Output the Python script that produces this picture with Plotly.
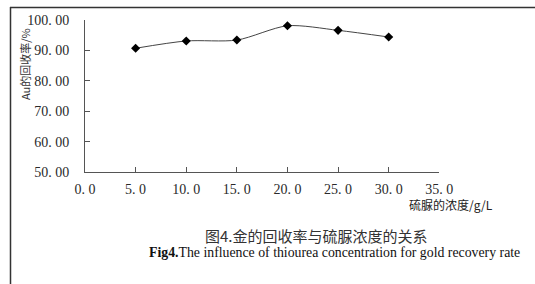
import plotly.graph_objects as go

# Data
concentration = [5.0, 10.0, 15.0, 20.0, 25.0, 30.0]
recovery = [90.7, 93.1, 93.4, 98.1, 96.6, 94.4]

x_ticks = [0, 5, 10, 15, 20, 25, 30, 35]
x_ticklabels = ["0. 0", "5. 0", "10. 0", "15. 0", "20. 0", "25. 0", "30. 0", "35. 0"]
y_ticks = [50, 60, 70, 80, 90, 100]
y_ticklabels = ["50. 00", "60. 00", "70. 00", "80. 00", "90. 00", "100. 00"]

y_title = "Au的回收率/%"
x_title = "硫脲的浓度/g/L"
caption_cn = "图4.金的回收率与硫脲浓度的关系"
caption_en = "<b>Fig4.</b>The influence of thiourea concentration for gold recovery rate"

W, H = 535, 284
L, R, T, B = 85, 439.3, 20, 172  # plot area in pixels


def px(x):
    return x / W


def py(y):
    return 1 - y / H


fig = go.Figure()
fig.add_trace(go.Scatter(
    x=concentration, y=recovery, mode="lines+markers",
    line=dict(color="#444444", width=1, shape="spline", smoothing=0.8),
    marker=dict(symbol="diamond", size=7, color="black"),
    showlegend=False,
))

tick_font = dict(family="Liberation Serif, serif", size=14, color="#2a2a2a")
fig.update_xaxes(range=[0, 35], tickvals=x_ticks, ticktext=x_ticklabels,
                 domain=[px(L), px(R)],
                 showgrid=False, zeroline=False, showline=True, automargin=False,
                 linecolor="#555555", linewidth=1, ticks="inside", ticklen=5,
                 tickcolor="#555555", tickfont=tick_font, ticklabelstandoff=4)
fig.update_yaxes(range=[50, 100], tickvals=y_ticks, ticktext=y_ticklabels,
                 domain=[py(B), py(T)],
                 showgrid=False, zeroline=False, showline=True, automargin=False,
                 linecolor="#555555", linewidth=1, ticks="inside", ticklen=5,
                 tickcolor="#555555", tickfont=tick_font, ticklabelstandoff=12)

cjk = "Noto Sans CJK SC"
common = dict(showarrow=False, xref="paper", yref="paper", xanchor="center", yanchor="middle")
annotations = [
    dict(x=px(25), y=py(64), text=y_title, textangle=-90,
         font=dict(family=cjk, size=11, color="#333333"), **common),
    dict(x=px(451), y=py(204), text=x_title,
         font=dict(family=cjk, size=12, color="#222222"), **common),
    dict(x=px(316), y=py(235), text=caption_cn,
         font=dict(family=cjk, size=15, color="#333333"), **common),
    dict(x=px(334), y=py(252), text=caption_en,
         font=dict(family="Liberation Serif, serif", size=13.8, color="#111111"), **common),
]

shapes = [
    dict(type="line", xref="paper", yref="paper", x0=px(10), x1=1, y0=py(7.5), y1=py(7.5),
         line=dict(color="#333333", width=1.5), layer="above"),
    dict(type="line", xref="paper", yref="paper", x0=px(10.5), x1=px(10.5), y0=0, y1=py(7),
         line=dict(color="#333333", width=1.5), layer="above"),
]

fig.update_layout(
    width=W, height=H,
    margin=dict(l=0, r=0, t=0, b=0, autoexpand=False),
    plot_bgcolor="white", paper_bgcolor="white",
    annotations=annotations, shapes=shapes,
)

fig.write_html("out.html", config={"displayModeBar": False},
               post_script="document.body.style.margin='0';document.body.style.overflow='hidden';")
